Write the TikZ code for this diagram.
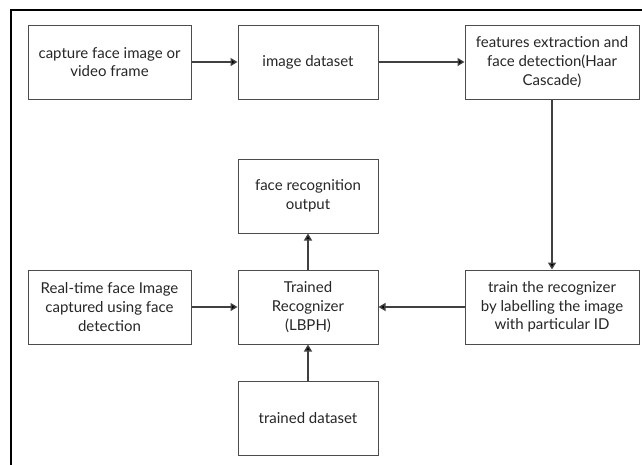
\documentclass[tikz,border=0pt]{standalone}
\usepackage{fontspec}
\setmainfont{Lato}
\usetikzlibrary{positioning,arrows.meta}

\begin{document}
\begin{tikzpicture}[x=1pt,y=-1pt,
    box/.style={draw=black!70,line width=1pt,minimum height=74pt,
        align=center,font=\fontsize{15}{18.7}\selectfont,text=black!85,inner sep=2pt},
    flow/.style={draw=black!75,line width=1.4pt,-{Triangle[length=7pt,width=8pt]}},
    node distance=36pt]
    \useasboundingbox (0,0) rectangle (642,464);
    % outer frame, runs off the page on the right and at the bottom
    \draw[line width=2.6pt] (11,480) -- (11,10) -- (660,10);

            \node[box,minimum width=163pt](capture) at (109.5,62){capture face image or\\video frame};
            \node[box,minimum width=140pt](dataset)[right =46pt of capture]{image dataset};
            \node[box,minimum width=174pt](haar)[right =86pt of dataset]{features extraction and\\face detection(Haar\\Cascade)};
            \node[box,minimum width=140pt](output)[below =59pt of dataset]{face recognition\\output};
            \node[box,minimum width=140pt](lbph)[below =of output]{Trained\\Recognizer\\(LBPH)};
            \node[box,minimum width=163pt](realtime)[left =46pt of lbph]{Real-time face Image\\captured using face\\detection};
            \node[box,minimum width=174pt](train)[right =86pt of lbph]{train the recognizer\\by labelling the image\\with particular ID};
            \node[box,minimum width=140pt](trained)[below =of lbph]{trained dataset};

            \path[flow](capture) edge (dataset)
                        (dataset) edge (haar)
                        (haar) edge (train)
                        (train) edge (lbph)
                        (realtime) edge (lbph)
                        (trained) edge (lbph)
                        (lbph) edge (output);
\end{tikzpicture}
\end{document}
